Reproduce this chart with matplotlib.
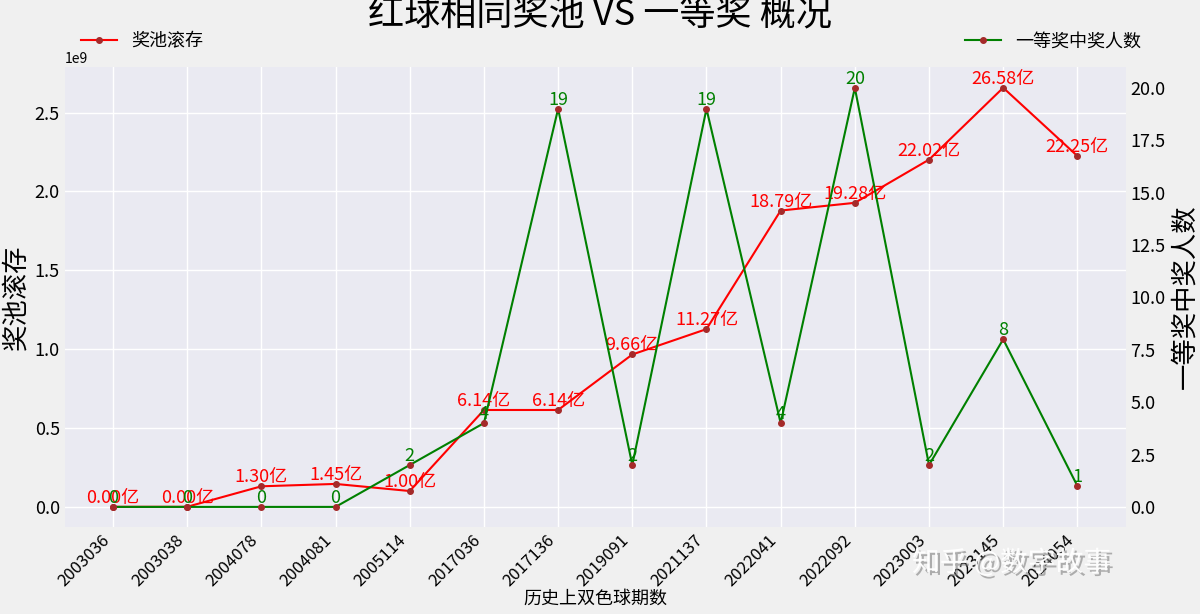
import matplotlib
matplotlib.use("Agg")
import matplotlib.pyplot as plt
import matplotlib.patheffects as pe

issues = ["2003036", "2003038", "2004078", "2004081", "2005114", "2017036", "2017136",
          "2019091", "2021137", "2022041", "2022092", "2023003", "2023145", "2024054"]
pool_yi = [0.00, 0.00, 1.30, 1.45, 1.00, 6.14, 6.14, 9.66, 11.27, 18.79, 19.28, 22.02, 26.58, 22.25]
winners = [0, 0, 0, 0, 2, 4, 19, 2, 19, 4, 20, 2, 8, 1]

plt.rcParams['font.family'] = ['Noto Sans CJK SC', 'DejaVu Sans']
plt.rcParams['axes.unicode_minus'] = False

fig = plt.figure(figsize=(12, 6.14), dpi=100, facecolor="#f0f0f0")
ax = fig.add_axes([0.054, 0.142, 0.884, 0.749], facecolor="#eaeaf2")
x = list(range(len(issues)))
pool = [v * 1e8 for v in pool_yi]

l1, = ax.plot(x, pool, color="red", marker="o", markersize=4, mfc="brown", mec="brown", lw=1.5, label="奖池滚存")
for i, v in enumerate(pool_yi):
    ax.text(i, pool[i], "%.2f亿" % v, color="red", fontsize=13, ha="center", va="bottom")
ax.set_ylim(-0.127e9, 2.79e9)
ax.set_xlim(-0.65, 13.65)
ax.set_xticks(x)
ax.set_xticklabels(issues, rotation=45, ha="right", fontsize=12)
ax.tick_params(axis="y", labelsize=13, length=0)
ax.tick_params(axis="x", length=0)
ax.grid(True, color="white", lw=1)
for s in ax.spines.values():
    s.set_visible(False)
ax.set_ylabel("奖池滚存", fontsize=19)
ax.set_xlabel("历史上双色球期数", fontsize=13, labelpad=0)

ax2 = ax.twinx()
l2, = ax2.plot(x, winners, color="green", marker="o", markersize=4, mfc="brown", mec="brown", lw=1.5, label="一等奖中奖人数")
for i, v in enumerate(winners):
    ax2.text(i, v, str(v), color="green", fontsize=13, ha="center", va="bottom")
ax2.set_ylim(-0.95, 21.0)
ax2.tick_params(axis="y", labelsize=13, length=0)
for s in ax2.spines.values():
    s.set_visible(False)
ax2.set_ylabel("一等奖中奖人数", fontsize=19)

ax.legend(handles=[l1], loc="lower left", bbox_to_anchor=(0.0, 1.0), frameon=False, fontsize=13)
ax2.legend(handles=[l2], loc="lower right", bbox_to_anchor=(1.03, 1.0), frameon=False, fontsize=13)
fig.suptitle("红球相同奖池 VS 一等奖 概况", fontsize=26, y=1.005)

fig.text(0.76, 0.07, "知乎 @数字故事", fontsize=20, color="white", alpha=0.95,
         path_effects=[pe.withSimplePatchShadow(offset=(2, -2), shadow_rgbFace="gray", alpha=0.6)])

fig.savefig("out.png", dpi=100, facecolor=fig.get_facecolor())
